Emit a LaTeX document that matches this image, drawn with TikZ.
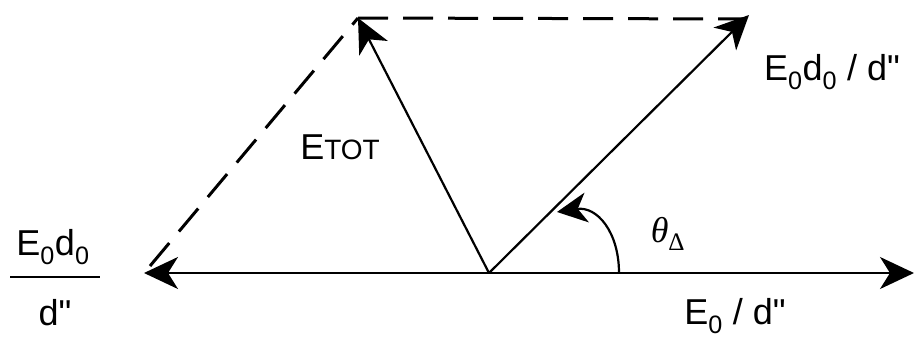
\documentclass[tikz,border=0pt]{standalone}
\usepackage{fontspec}
\setmainfont{Liberation Sans}[Ligatures=TeXOff]
\newfontfamily\thfont{Liberation Serif}
\usetikzlibrary{arrows.meta}
\newcommand{\dq}{\symbol{34}}
\begin{document}
\begin{tikzpicture}[x=1pt,y=-1pt,
  vec/.style={line width=2.2pt,-{Stealth[length=34pt,width=32pt,inset=10pt]}},
  dsh/.style={line width=3pt,dash pattern=on 30pt off 15pt},
  lbl/.style={font=\fontsize{36}{40}\selectfont,inner sep=0pt}]
\useasboundingbox (0,0) rectangle (914,340);
\coordinate (O) at (489,273);
\coordinate (A) at (144,273);
\coordinate (B) at (914,273);
\coordinate (C) at (749,15);
\coordinate (T) at (358,18);
\coordinate (C2) at (746,19);
\coordinate (A2) at (150,266);
\coordinate (R0) at (619,273);
\coordinate (R1) at (557,212);
\draw[vec] (O) -- (A);
\draw[vec] (O) -- (B);
\draw[vec] (O) -- (C);
\draw[vec] (O) -- (T);
\draw[dsh] (T) -- (C2);
\draw[dsh] (A2) -- (T);
\draw[line width=2.2pt,-{Stealth[length=30pt,width=30pt,inset=9pt]}] (R0) .. controls (619,232) and (597,206) .. (R1);
\node[lbl] (num) at (53,247) {E\textsubscript{0}d\textsubscript{0}};
\coordinate (b1) at (10,277);
\coordinate (b2) at (100,277);
\draw[line width=2.4pt] (b1) -- (b2);
\node[lbl] (den) at (55,313) {d\dq};
\node[lbl] (tot) at (340,147) {E{\fontsize{28}{28}\selectfont TOT}};
\node[lbl] (ed) at (832,72) {E\textsubscript{0}d\textsubscript{0} / d\dq};
\node[lbl] (th) at (668,234) {{\thfont\itshape θ}\textsubscript{\thfont Δ}};
\node[lbl] (e0) at (735,316) {E\textsubscript{0} / d\dq};
\end{tikzpicture}
\end{document}
